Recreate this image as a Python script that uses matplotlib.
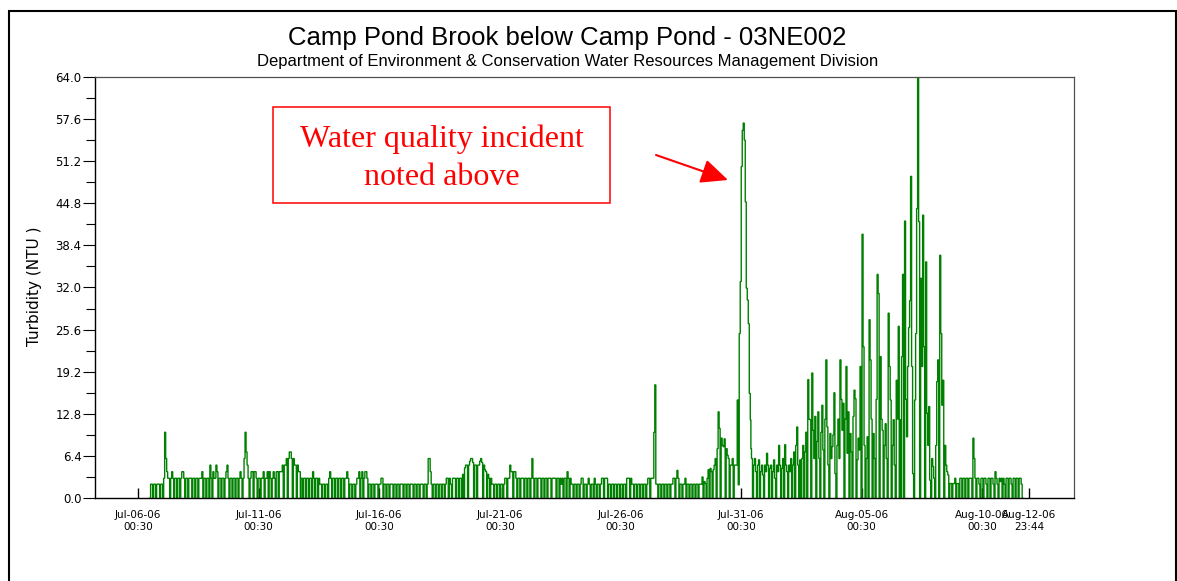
import numpy as np
import matplotlib
matplotlib.use("Agg")
import matplotlib.pyplot as plt
from matplotlib.patches import Rectangle
from matplotlib.ticker import MultipleLocator, FormatStrFormatter

# ---------------- data (hourly turbidity, NTU; hours after Jul-06-06 00:30) ----------------
seg1_start = 12.0
seg1 = [0, 2.1, 2.1, 0, 2.1, 2.1, 0, 2.1, 2.1, 2.1,
        0, 2.1, 2.1, 0, 3, 10, 6, 4, 3, 3,
        0, 3, 4, 3, 0, 3, 3, 0, 3, 3,
        0, 3, 4, 4, 3, 0, 3, 3, 0, 3,
        3, 3, 0, 3, 3, 0, 3, 3, 0, 3,
        3, 3, 4, 0, 3, 3, 0, 3, 3, 0,
        5, 3, 0, 4, 3, 3, 5, 4, 0, 3,
        3, 0, 3, 3, 0, 3, 4, 5, 3, 0,
        3, 3, 0, 3, 3, 0, 3, 3, 0, 3,
        4, 3, 0, 3, 6, 10, 7, 5, 3, 0,
        3, 4, 4, 0, 4, 4, 3, 0, 3, 3,
        0, 3, 3, 4, 0, 3, 3, 4, 0, 4,
        3, 0, 3, 4, 3, 0, 4, 4, 0, 4,
        4, 4, 5, 0, 5, 5, 6, 0, 6, 7,
        7, 6, 0, 6, 5, 5, 0, 5, 4, 4,
        0]

seg2_start = 162.2
seg2 = [3, 3, 0, 3, 3, 0, 3, 3, 0, 3,
        3, 0, 4, 3, 0, 3, 3, 0, 3, 2.1,
        2.1, 0, 2.1, 2.1, 0, 2.1, 2.1, 0, 3, 4,
        3, 0, 3, 3, 0, 3, 3, 0, 3, 3,
        0, 3, 3, 0, 3, 3, 4, 3, 0, 2.1,
        2.1, 0, 2.1, 2.1, 0, 2.1, 3, 3, 4, 0,
        3, 4, 0, 3, 4, 4, 3, 0, 2.1, 2.1,
        0, 2.1, 2.1, 0, 2.1, 2.1, 2.1, 0, 2.1, 2.1,
        3, 3, 0, 2.1, 2.1, 0, 2.1, 2.1, 0, 2.1,
        2.1, 2.1, 0, 2.1, 2.1, 0, 2.1, 2.1, 0, 2.1,
        2.1, 2.1, 0, 2.1, 2.1, 0, 2.1, 2.1, 0, 2.1,
        2.1, 2.1, 0, 2.1, 2.1, 0, 2.1, 2.1, 0, 2.1,
        2.1, 2.1, 0, 2.1, 2.1, 0, 2.1, 6, 6, 4,
        2.1, 0, 2.1, 2.1, 0, 2.1, 2.1, 0, 2.1, 2.1,
        0, 2.1, 2.1, 0, 2.1, 3, 3, 0, 3, 2.1]

seg3_start = 311.4
seg3 = [2.1, 0, 3, 3, 3, 0, 3, 3, 0, 3,
        3, 0, 3.6, 0, 4.6, 5, 5, 0, 5, 5.6,
        6, 6, 5.4, 0, 5, 5, 0, 5, 5, 5.6,
        6, 5.4, 0, 5, 4.3, 4, 0, 3.6, 3, 0,
        3, 2.1, 2.1, 0, 2.1, 2.1, 0, 2.1, 2.1, 0,
        2.1, 2.1, 0, 2.1, 3, 3, 0, 3, 3, 5,
        4, 4, 0, 4, 4, 3, 0, 3, 3, 0,
        3, 3, 3, 0, 3, 3, 0, 3, 3, 0,
        3, 6, 3, 0, 3, 3, 0, 3, 3, 3,
        0, 3, 3, 0, 3, 3, 0, 3, 3, 3,
        0, 3, 3, 3, 3, 0, 3, 3, 0, 3,
        2.1, 3, 0, 3, 3, 0, 4, 3, 0, 3,
        2.1, 2.1, 0, 2.1, 2.1, 0, 2.1, 2.1, 0, 2.1,
        3, 3, 0, 2.1, 2.1, 0, 2.1, 3, 2.1, 0,
        2.1, 2.1, 0, 3, 2.1, 0, 2.1, 2.1, 0, 2.1]

seg4_start = 460.7
seg4 = [2.1, 3, 3, 0, 3, 3, 3, 0, 2.1, 2.1,
        0, 2.1, 2.1, 0, 2.1, 2.1, 0, 2.1, 2.1, 0,
        2.1, 2.1, 0, 2.1, 2.1, 0, 3, 3, 3, 0,
        3, 2.1, 2.1, 0, 2.1, 2.1, 0, 2.1, 2.1, 0,
        2.1, 2.1, 0, 2.1, 2.1, 0, 2.1, 3, 3, 0,
        3, 3, 3, 10, 17.2, 2.1, 2.1, 0, 2.1, 2.1,
        0, 2.1, 2.1, 0, 2.1, 2.1, 0, 2.1, 2.1, 0,
        2.1, 2.1, 3, 3, 0, 3, 4.2, 3, 0, 2.1,
        2.1, 0, 2.1, 2.1, 3, 0, 2.1, 2.1, 0, 2.1,
        2.1, 0, 2.1, 2.1, 0, 2.1, 2.1, 0, 2.1, 2.1,
        2.1, 3.2, 0, 2.5, 2.2, 0, 3, 4.3, 0, 4.5,
        4, 0, 4.3, 5, 6, 0, 7.5, 13.1, 10.6, 0,
        9.1, 8, 7.8, 9, 0, 7.5, 6.5, 6, 0, 5,
        5, 6, 0, 5, 5, 5, 14.9, 2, 25, 32.9,
        50.4, 55.9, 57, 54.4, 45, 31.9, 30.1, 26.5, 15.9, 11.9]

seg5_start = 609.9
seg5 = [7.5, 6, 0, 5, 6, 4, 0, 5, 5.8, 0,
        4, 5, 3.5, 0, 5, 4, 6.8, 5, 0, 4.5,
        5, 0, 4, 5.8, 3, 0, 5, 4, 8, 5,
        0, 4.5, 6, 0, 8.1, 5, 4, 0, 5, 4,
        6, 0, 5, 7, 0, 8, 10.8, 5, 0, 5.8,
        0, 6, 8, 0, 7, 10, 0, 18, 12, 11.9,
        0, 19, 10.3, 6, 12.4, 0, 8.6, 13.1, 6, 0,
        10, 14.1, 7.3, 0, 12, 21, 10.8, 5, 0, 9.8,
        6, 7.8, 9.6, 16, 3.7, 0, 8, 12, 6, 21,
        15, 10.3, 14.4, 0, 12, 20, 6.8, 13.1, 0, 9.8,
        7, 0, 12.4, 16.4, 15.1, 0, 5.8, 9.1, 7.3, 20,
        0, 40.1, 23, 8, 0, 6, 9.3, 0, 27.1, 21,
        12, 0, 9.8, 6, 0, 15, 34, 31.1, 0, 21.5,
        12, 10.3, 0, 8, 11.3, 6, 0, 28.1, 20, 14.9,
        0, 8, 11.9, 5, 0, 17.9, 12, 26.1, 0, 11.9]

seg6_start = 759.2
seg6 = [0, 21.5, 34, 0, 42.1, 15, 9.3, 20, 25.9, 30,
        48.9, 20, 3.7, 0, 14.9, 25, 44, 66, 42, 0,
        33.4, 20, 43, 23, 0, 35.9, 12.9, 8, 13.9, 2.7,
        0, 6, 4.8, 3, 0, 8, 17.7, 21, 0, 36.9,
        25, 14.1, 17.9, 0, 8, 5, 4, 3.5, 0, 2.2,
        2.2, 0, 2.2, 2.2, 3, 0, 2.2, 2.2, 0, 3,
        3, 0, 3, 3, 0, 3, 3, 0, 3, 3,
        3, 0, 9.1, 6, 3, 0, 3, 3, 2.1, 0,
        3, 3, 0, 3, 3, 2.1, 0, 3, 3, 0,
        3, 3, 2.1, 0, 4, 3, 2.1, 0, 3, 2.5,
        3, 0, 3, 2.1, 0, 3, 3, 0, 3, 3,
        2.1, 0, 3, 3, 0, 3, 3, 0, 3, 3, 2.1, 0]

tick_hours = [0, 120, 240, 360, 480, 600, 720, 840, 887]
tick_labels = ["Jul-06-06\n00:30", "Jul-11-06\n00:30", "Jul-16-06\n00:30",
               "Jul-21-06\n00:30", "Jul-26-06\n00:30", "Jul-31-06\n00:30",
               "Aug-05-06\n00:30", "Aug-10-06\n00:30", "Aug-12-06\n23:44"]

title = "Camp Pond Brook below Camp Pond - 03NE002"
subtitle = "Department of Environment & Conservation Water Resources Management Division"
ylabel = "Turbidity (NTU )"
note_lines = ["Water quality incident", "noted above"]

# ---------------- figure ----------------
W, H = 1177, 581
fig = plt.figure(figsize=(W / 100, H / 100), dpi=100)
fig.patch.set_facecolor("white")

ax = fig.add_axes([95 / W, 1 - 498 / H, (1074 - 95) / W, (498 - 77) / H])

segments = [(seg1_start, seg1), (seg2_start, seg2), (seg3_start, seg3),
            (seg4_start, seg4), (seg5_start, seg5), (seg6_start, seg6)]
hours = np.concatenate([s + np.arange(len(v)) for s, v in segments])
vals = np.concatenate([np.asarray(v, dtype=float) for _, v in segments])
ax.plot(hours, vals, color="#008000", lw=1.0, drawstyle="steps-mid",
        solid_joinstyle="miter")

ax.set_xlim(-42.8, 931.3)
ax.set_ylim(0, 64)
ax.yaxis.set_major_locator(MultipleLocator(6.4))
ax.yaxis.set_minor_locator(MultipleLocator(3.2))
ax.yaxis.set_major_formatter(FormatStrFormatter("%.1f"))
ax.set_xticks(tick_hours)
ax.set_xticklabels(tick_labels, fontsize=7.5, family="DejaVu Sans", linespacing=1.3)

ax.tick_params(axis="x", direction="in", length=7.2, width=1.0, pad=8.5, colors="black")
ax.tick_params(axis="y", which="major", direction="out", length=8.6, width=0.8, pad=1,
               labelsize=8.5)
ax.tick_params(axis="y", which="minor", direction="out", length=6.5, width=0.8)
for lab in ax.get_yticklabels():
    lab.set_family("DejaVu Sans")

for side in ("left", "bottom"):
    ax.spines[side].set_color("black")
    ax.spines[side].set_linewidth(1.0)
for side in ("top", "right"):
    ax.spines[side].set_color("#505050")
    ax.spines[side].set_linewidth(0.9)

# titles
fig.text(567.5 / W, 1 - 45 / H, title, ha="center", va="baseline",
         fontsize=18.5, family="Liberation Sans")
fig.text(567.5 / W, 1 - 66 / H, subtitle, ha="center", va="baseline",
         fontsize=12, family="Liberation Sans")
fig.text(35 / W, 1 - 286 / H, ylabel, rotation=90, ha="center", va="center",
         fontsize=11, family="DejaVu Sans")

# annotation box
fig.add_artist(Rectangle((273 / W, 1 - 203 / H), (610 - 273) / W, (203 - 107) / H,
                         transform=fig.transFigure, fill=False, edgecolor="red", lw=1.1))
fig.text(441.5 / W, 1 - 147 / H, note_lines[0], ha="center", va="baseline",
         fontsize=23, color="red", family="Liberation Serif")
fig.text(441.5 / W, 1 - 185 / H, note_lines[1], ha="center", va="baseline",
         fontsize=23, color="red", family="Liberation Serif")
ax.annotate("", xy=(728, H - 180), xytext=(656, H - 155),
            xycoords="figure pixels", textcoords="figure pixels",
            arrowprops=dict(arrowstyle="-|>,head_length=1.1,head_width=0.5",
                            color="red", lw=1.5, mutation_scale=15,
                            shrinkA=0, shrinkB=0))

# outer frame
fig.add_artist(Rectangle((8.5 / W, -0.1), (1175.5 - 8.5) / W, 1.1 - 10.5 / H,
                         transform=fig.transFigure, fill=False, edgecolor="black",
                         lw=1.5, clip_on=False))

fig.savefig("out.png", dpi=100)
